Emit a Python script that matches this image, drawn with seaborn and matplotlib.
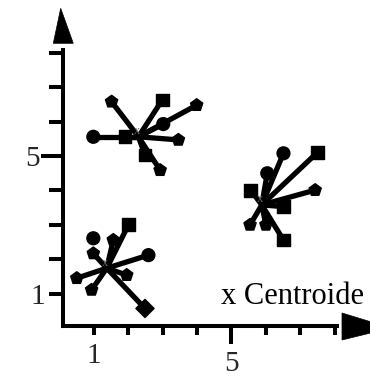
import matplotlib
matplotlib.use("Agg")
import matplotlib.pyplot as plt
from matplotlib.patches import Polygon
import pandas as pd
import seaborn as sns

# Cluster members (x, y) and marker shape per point
a_x = [1.52, 2.99, 3.99, 3.02, 0.99, 1.91, 3.46, 2.49, 2.93]
a_y = [6.58, 6.63, 6.48, 5.93, 5.56, 5.56, 5.47, 5.03, 4.59]
b_x = [6.51, 7.49, 6.04, 5.56, 7.43, 6.51, 5.54, 6.00, 6.51]
b_y = [5.08, 5.10, 4.50, 4.01, 4.01, 3.53, 3.00, 3.00, 2.56]
c_x = [2.01, 0.99, 1.57, 0.99, 2.59, 0.51, 1.96, 0.94, 2.49]
c_y = [3.00, 2.61, 2.56, 2.17, 2.12, 1.45, 1.54, 1.11, 0.57]

# Whether a member is joined to its centroid by a line
a_linked = [True] * 9
b_linked = [True] * 9
c_linked = [True, False, True, True, True, True, True, True, True]

# Centroids
cent_x = [2.30, 5.88, 1.38]
cent_y = [5.56, 3.58, 1.74]

a_shape = ["p", "s", "p", "o", "o", "s", "p", "s", "p"]
b_shape = ["o", "s", "o", "s", "p", "s", "p", "p", "s"]
c_shape = ["s", "o", "p", "p", "o", "p", "p", "p", "D"]

x_ticks = [1, 2, 3, 4, 5, 6, 7, 8]
y_ticks = [1, 2, 3, 4, 5, 6, 7, 8]
x_labels = {1: "1", 5: "5"}
y_labels = {1: "1", 5: "5"}
legend_text = "x Centroide"

sns.set_style("white")
plt.rcParams["font.family"] = ["Liberation Serif", "DejaVu Serif"]

W, H = 370, 378
fig = plt.figure(figsize=(W / 100, H / 100), dpi=100)
ax = fig.add_axes([63 / W, 1 - 326 / H, (337 - 63) / W, (326 - 50) / H])

clusters = [
    (a_x, a_y, a_shape, a_linked),
    (b_x, b_y, b_shape, b_linked),
    (c_x, c_y, c_shape, c_linked),
]

pts_rows, seg_rows = [], []
seg = 0
for k, (xs, ys, shapes, linked) in enumerate(clusters):
    for x, y, s, l in zip(xs, ys, shapes, linked):
        pts_rows.append({"x": x, "y": y, "shape": s, "cluster": k})
        if l:
            seg_rows.append({"x": cent_x[k], "y": cent_y[k], "seg": seg})
            seg_rows.append({"x": x, "y": y, "seg": seg})
            seg += 1
pts = pd.DataFrame(pts_rows)
segs = pd.DataFrame(seg_rows)

sns.lineplot(data=segs, x="x", y="y", units="seg", estimator=None, sort=False,
             color="black", lw=3.8, ax=ax, legend=False, solid_capstyle="butt")
sns.scatterplot(data=pts, x="x", y="y", style="shape",
                markers={"p": "p", "s": "s", "o": "o", "D": "D"},
                color="black", edgecolor="black", s=85, linewidth=1.0,
                ax=ax, legend=False, zorder=3)

for cx, cy in zip(cent_x, cent_y):
    ax.annotate("x", (cx, cy), xytext=(-1, 4), textcoords="offset points",
                ha="center", va="center", fontsize=9, color="#666666", zorder=4)

ax.set_xlim(0.11, 8.064)
ax.set_ylim(0.06, 8.083)
ax.set_xlabel("")
ax.set_ylabel("")

# long ticks carry the labelled values, short ticks the rest
x_major = [5]
x_minor = [t for t in x_ticks if t != 5]
y_major = [5]
y_minor = [t for t in y_ticks if t != 5]
ax.set_xticks(x_major, labels=[x_labels.get(t, "") for t in x_major])
ax.set_xticks(x_minor, labels=[x_labels.get(t, "") for t in x_minor], minor=True)
ax.set_yticks(y_major, labels=[y_labels.get(t, "") for t in y_major])
ax.set_yticks(y_minor, labels=[y_labels.get(t, "") for t in y_minor], minor=True)

ax.tick_params(axis="x", which="major", length=13.0, width=2.9, direction="out",
               labelsize=21, pad=5, color="black")
ax.tick_params(axis="x", which="minor", length=6.5, width=2.9, direction="out",
               labelsize=21, pad=6, color="black")
ax.tick_params(axis="y", which="major", length=16, width=2.9, direction="out",
               labelsize=21, pad=1, color="black")
ax.tick_params(axis="y", which="minor", length=10, width=2.9, direction="out",
               labelsize=21, pad=3, color="black")
ax.xaxis.set_ticks_position("bottom")
ax.yaxis.set_ticks_position("left")

for side in ("top", "right"):
    ax.spines[side].set_visible(False)
for side in ("left", "bottom"):
    ax.spines[side].set_linewidth(2.9)
    ax.spines[side].set_color("black")
    ax.spines[side].set_capstyle("projecting")
ax.grid(False)

# arrow heads at the ends of both axes
def px(xp, yp):
    return (xp / W, 1 - yp / H)

fig.patches.append(Polygon([px(53.3, 43.3), px(73.3, 43.3), px(60.7, 8.3)],
                           closed=True, transform=fig.transFigure,
                           facecolor="black", edgecolor="black", lw=0.5))
fig.patches.append(Polygon([px(342, 313), px(342, 340), px(391, 328)],
                           closed=True, transform=fig.transFigure,
                           facecolor="black", edgecolor="black", lw=0.5))

fig.text(221 / W, 1 - 304 / H, legend_text, fontsize=22, ha="left",
         va="baseline", color="black")

fig.savefig("out.png", dpi=100)
